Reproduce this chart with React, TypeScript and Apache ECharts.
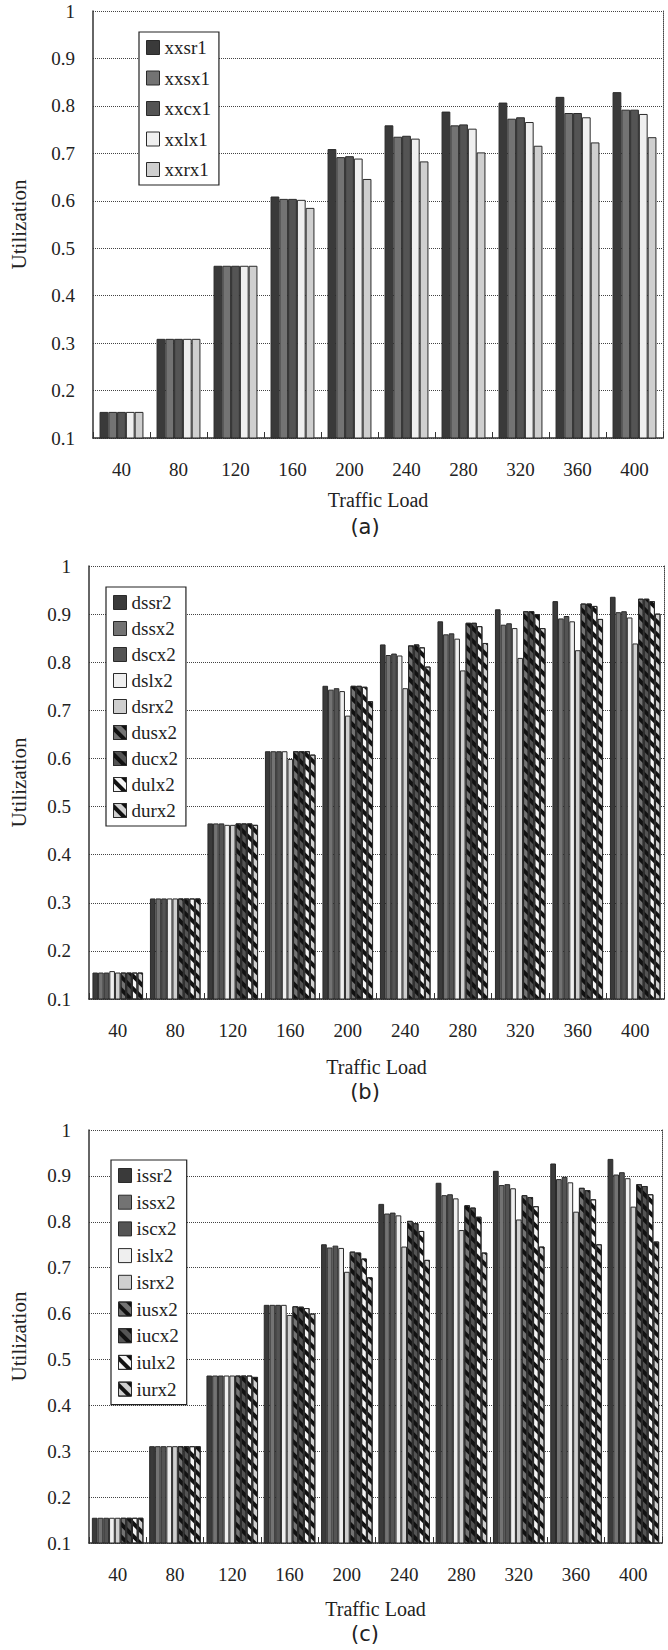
import React, { useEffect, useRef } from "react";
import * as echarts from "echarts";

const categories = ["40", "80", "120", "160", "200", "240", "280", "320", "360", "400"];
const yTicksMin = 0.1;
const yTicksMax = 1;
const yTickStep = 0.1;

// Chart (a)
const xxsr1 = [0.155, 0.309, 0.463, 0.609, 0.709, 0.759, 0.788, 0.807, 0.819, 0.829];
const xxsx1 = [0.155, 0.309, 0.463, 0.604, 0.692, 0.735, 0.759, 0.773, 0.785, 0.792];
const xxcx1 = [0.155, 0.309, 0.463, 0.604, 0.694, 0.737, 0.761, 0.776, 0.785, 0.792];
const xxlx1 = [0.155, 0.309, 0.463, 0.602, 0.689, 0.731, 0.752, 0.766, 0.776, 0.783];
const xxrx1 = [0.155, 0.309, 0.463, 0.585, 0.646, 0.683, 0.702, 0.716, 0.723, 0.734];

// Chart (b)
const dssr2 = [0.155, 0.309, 0.465, 0.615, 0.751, 0.837, 0.885, 0.910, 0.927, 0.936];
const dssx2 = [0.155, 0.309, 0.465, 0.615, 0.743, 0.815, 0.858, 0.878, 0.891, 0.904];
const dscx2 = [0.155, 0.309, 0.465, 0.615, 0.746, 0.818, 0.860, 0.881, 0.896, 0.906];
const dslx2 = [0.158, 0.309, 0.462, 0.615, 0.740, 0.814, 0.849, 0.871, 0.885, 0.893];
const dsrx2 = [0.155, 0.309, 0.462, 0.599, 0.689, 0.746, 0.783, 0.809, 0.825, 0.839];
const dusx2 = [0.155, 0.309, 0.465, 0.615, 0.751, 0.835, 0.882, 0.906, 0.922, 0.932];
const ducx2 = [0.155, 0.309, 0.465, 0.615, 0.751, 0.837, 0.882, 0.906, 0.922, 0.932];
const dulx2 = [0.155, 0.309, 0.465, 0.615, 0.749, 0.831, 0.875, 0.900, 0.917, 0.927];
const durx2 = [0.155, 0.309, 0.462, 0.608, 0.719, 0.791, 0.840, 0.871, 0.890, 0.901];

// Chart (c)
const issr2 = [0.155, 0.311, 0.465, 0.619, 0.751, 0.839, 0.885, 0.911, 0.927, 0.937];
const issx2 = [0.155, 0.311, 0.465, 0.619, 0.744, 0.818, 0.858, 0.880, 0.893, 0.903];
const iscx2 = [0.155, 0.311, 0.465, 0.619, 0.748, 0.820, 0.860, 0.882, 0.898, 0.908];
const islx2 = [0.155, 0.311, 0.465, 0.619, 0.743, 0.814, 0.851, 0.873, 0.886, 0.895];
const isrx2 = [0.155, 0.311, 0.465, 0.597, 0.691, 0.746, 0.782, 0.805, 0.822, 0.833];
const iusx2 = [0.155, 0.311, 0.465, 0.616, 0.735, 0.802, 0.836, 0.858, 0.874, 0.882];
const iucx2 = [0.155, 0.311, 0.465, 0.615, 0.733, 0.797, 0.831, 0.854, 0.869, 0.878];
const iulx2 = [0.155, 0.311, 0.465, 0.612, 0.720, 0.780, 0.811, 0.834, 0.849, 0.860];
const iurx2 = [0.155, 0.311, 0.462, 0.600, 0.679, 0.717, 0.733, 0.746, 0.751, 0.757];

const panelALabel = "(a)";
const panelBLabel = "(b)";
const panelCLabel = "(c)";
const xName = "Traffic Load";
const yName = "Utilization";

const SERIF = "'Liberation Serif', 'Times New Roman', Times, serif";
const TXT = "#222";

const hatch = {
  symbol: "rect",
  symbolSize: 1,
  color: "#111",
  dashArrayX: [1, 0],
  dashArrayY: [3.5, 4.5],
  rotation: Math.PI / 4,
};

type SDef = { name: string; data: number[]; color: string; hatched?: boolean };

const panels: {
  series: SDef[];
  grid: { left: number; right: number; top: number; height: number };
  gap: string;
  legend: { left: number; top: number; itemGap: number; padding: number[] };
  nameGap: number;
  yNameGap: number;
  caption: string;
  captionY: number;
}[] = [
  {
    series: [
      { name: "xxsr1", data: xxsr1, color: "#3a3a3a" },
      { name: "xxsx1", data: xxsx1, color: "#737373" },
      { name: "xxcx1", data: xxcx1, color: "#545454" },
      { name: "xxlx1", data: xxlx1, color: "#efefef" },
      { name: "xxrx1", data: xxrx1, color: "#cfcfcf" },
    ],
    grid: { left: 87, right: 5, top: 11, height: 427 },
    gap: "23%",
    legend: { left: 139, top: 32, itemGap: 11.5, padding: [6, 8, 6, 7] },
    nameGap: 52,
    yNameGap: 64,
    caption: panelALabel,
    captionY: 527,
  },
  {
    series: [
      { name: "dssr2", data: dssr2, color: "#3a3a3a" },
      { name: "dssx2", data: dssx2, color: "#737373" },
      { name: "dscx2", data: dscx2, color: "#545454" },
      { name: "dslx2", data: dslx2, color: "#efefef" },
      { name: "dsrx2", data: dsrx2, color: "#cfcfcf" },
      { name: "dusx2", data: dusx2, color: "#737373", hatched: true },
      { name: "ducx2", data: ducx2, color: "#545454", hatched: true },
      { name: "dulx2", data: dulx2, color: "#f4f4f4", hatched: true },
      { name: "durx2", data: durx2, color: "#cfcfcf", hatched: true },
    ],
    grid: { left: 81, right: 4, top: 566, height: 433 },
    gap: "12%",
    legend: { left: 106, top: 587, itemGap: 7, padding: [6, 8, 6, 7] },
    nameGap: 58,
    yNameGap: 60,
    caption: panelBLabel,
    captionY: 1092,
  },
  {
    series: [
      { name: "issr2", data: issr2, color: "#3a3a3a" },
      { name: "issx2", data: issx2, color: "#737373" },
      { name: "iscx2", data: iscx2, color: "#545454" },
      { name: "islx2", data: islx2, color: "#efefef" },
      { name: "isrx2", data: isrx2, color: "#cfcfcf" },
      { name: "iusx2", data: iusx2, color: "#737373", hatched: true },
      { name: "iucx2", data: iucx2, color: "#545454", hatched: true },
      { name: "iulx2", data: iulx2, color: "#f4f4f4", hatched: true },
      { name: "iurx2", data: iurx2, color: "#cfcfcf", hatched: true },
    ],
    grid: { left: 80, right: 6, top: 1130, height: 413 },
    gap: "10%",
    legend: { left: 111, top: 1160, itemGap: 7.7, padding: [6, 8, 6, 7] },
    nameGap: 56,
    yNameGap: 60,
    caption: panelCLabel,
    captionY: 1634,
  },
];

export default function App() {
  const ref = useRef<HTMLDivElement>(null);
  useEffect(() => {
    if (!ref.current) return;
    const chart = echarts.init(ref.current, undefined, { renderer: "svg" });

    const grid: any[] = [];
    const xAxis: any[] = [];
    const yAxis: any[] = [];
    const series: any[] = [];
    const legend: any[] = [];
    const graphic: any[] = [];

    panels.forEach((p, i) => {
      grid.push({ ...p.grid, containLabel: false });
      xAxis.push({
        type: "category",
        gridIndex: i,
        data: categories,
        name: xName,
        nameLocation: "middle",
        nameGap: p.nameGap,
        nameTextStyle: { fontFamily: SERIF, fontSize: 20, color: TXT, verticalAlign: "top" },
        axisLine: { show: true, lineStyle: { color: "#333", width: 1.5 } },
        axisTick: { show: true, inside: true, length: 6, alignWithLabel: false, lineStyle: { color: "#333" } },
        axisLabel: { fontFamily: SERIF, fontSize: 19, color: TXT, margin: 22 },
        splitLine: { show: false },
      });
      yAxis.push({
        type: "value",
        gridIndex: i,
        min: yTicksMin,
        max: yTicksMax,
        interval: yTickStep,
        name: yName,
        nameLocation: "middle",
        nameGap: p.yNameGap,
        nameRotate: 90,
        nameTextStyle: { fontFamily: SERIF, fontSize: 21, color: TXT },
        axisLine: { show: true, lineStyle: { color: "#333", width: 1.5 } },
        axisTick: { show: false },
        axisLabel: { fontFamily: SERIF, fontSize: 19, color: TXT, margin: 18 },
        splitLine: { show: true, lineStyle: { type: "dotted", color: "#444", width: 1 } },
      });
      yAxis.push({
        type: "value",
        gridIndex: i,
        position: "right",
        min: yTicksMin,
        max: yTicksMax,
        interval: yTickStep,
        axisLine: { show: true, lineStyle: { type: "dotted", color: "#444", width: 1 } },
        axisTick: { show: false },
        axisLabel: { show: false },
        splitLine: { show: false },
      });
      p.series.forEach((s) => {
        series.push({
          type: "bar",
          name: s.name,
          xAxisIndex: i,
          yAxisIndex: i * 2,
          data: s.data,
          barGap: "0%",
          barCategoryGap: p.gap,
          itemStyle: {
            color: s.color,
            borderColor: "#2a2a2a",
            borderWidth: 1,
            decal: s.hatched ? hatch : undefined,
          },
        });
      });
      legend.push({
        orient: "vertical",
        left: p.legend.left,
        top: p.legend.top,
        data: p.series.map((s) => s.name),
        itemWidth: 13,
        itemHeight: 14,
        itemGap: p.legend.itemGap,
        padding: p.legend.padding,
        backgroundColor: "#fff",
        borderColor: "#222",
        borderWidth: 1.2,
        borderRadius: 0,
        icon: "rect",
        selectedMode: false,
        textStyle: { fontFamily: SERIF, fontSize: 19, color: TXT, lineHeight: 19 },
        itemStyle: { borderColor: "#2a2a2a", borderWidth: 1 },
      });
      graphic.push({
        type: "text",
        x: 365,
        y: p.captionY,
        style: {
          text: p.caption,
          font: "21px 'DejaVu Sans'",
          fill: TXT,
          textAlign: "center",
          textVerticalAlign: "middle",
        },
      });
    });

    chart.setOption({
      animation: false,
      backgroundColor: "#fff",
      textStyle: { fontFamily: SERIF },
      grid,
      xAxis,
      yAxis,
      series,
      legend,
      graphic,
    });
    return () => chart.dispose();
  }, []);
  return (
    <div
      ref={ref}
      style={{ position: "absolute", left: 0, top: 0, width: 668, height: 1650 }}
    />
  );
}
